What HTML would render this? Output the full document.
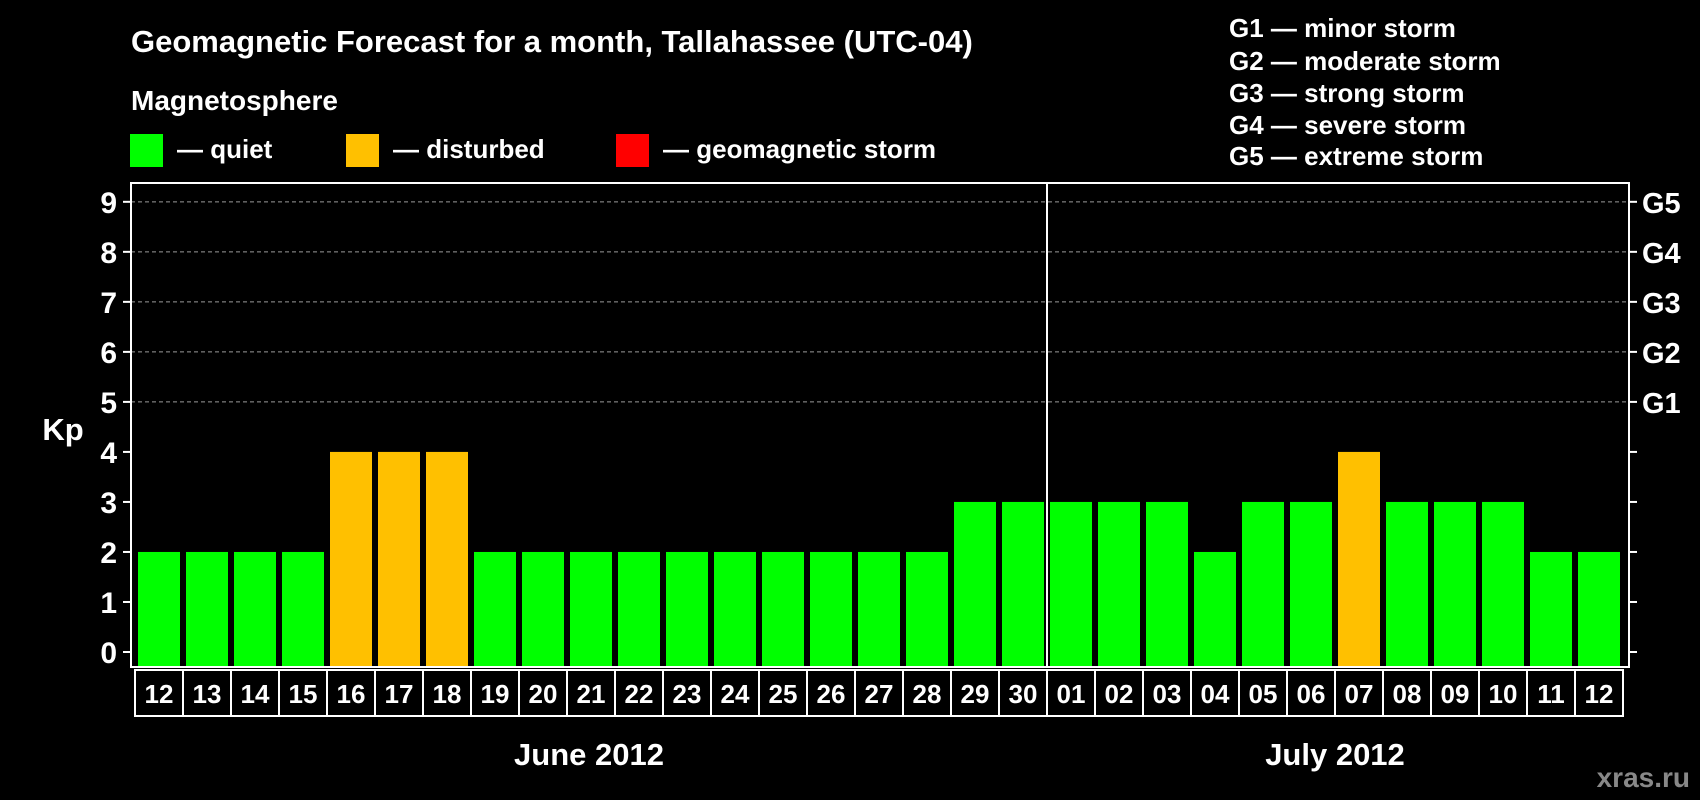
<!DOCTYPE html>
<html><head><meta charset="utf-8"><style>
html,body{margin:0;padding:0;background:#000;}
svg{display:block;font-family:"Liberation Sans",Arial,sans-serif;font-weight:bold;}
</style></head><body>
<svg id="chart" width="1700" height="800" viewBox="0 0 1700 800">
<rect width="1700" height="800" fill="#000"/>
<text x="131" y="52" fill="#fff" font-size="31">Geomagnetic Forecast for a month, Tallahassee (UTC-04)</text>
<text x="131" y="110" fill="#fff" font-size="28">Magnetosphere</text>
<g><rect x="130" y="134" width="33" height="33" fill="#00ff00"/><text x="177" y="158" fill="#fff" font-size="26">— quiet</text></g>
<g><rect x="346" y="134" width="33" height="33" fill="#ffc000"/><text x="393" y="158" fill="#fff" font-size="26">— disturbed</text></g>
<g><rect x="616" y="134" width="33" height="33" fill="#ff0000"/><text x="663" y="158" fill="#fff" font-size="26">— geomagnetic storm</text></g>
<g fill="#fff" font-size="26">
<text x="1229" y="37">G1 — minor storm</text>
<text x="1229" y="70">G2 — moderate storm</text>
<text x="1229" y="102">G3 — strong storm</text>
<text x="1229" y="134">G4 — severe storm</text>
<text x="1229" y="165">G5 — extreme storm</text>
</g>
<text x="63" y="440" fill="#fff" font-size="31" text-anchor="middle">Kp</text>
<g id="grid"></g><g id="bars"></g><g id="axes"></g><g id="days"></g>
<text x="589" y="765" fill="#fff" font-size="31" text-anchor="middle">June 2012</text>
<text x="1335" y="765" fill="#fff" font-size="31" text-anchor="middle">July 2012</text>
<text x="1690" y="787" fill="#888" font-size="28" text-anchor="end">xras.ru</text>
</svg>
<script>
const days=["12","13","14","15","16","17","18","19","20","21","22","23","24","25","26","27","28","29","30","01","02","03","04","05","06","07","08","09","10","11","12"];
const kp=[2,2,2,2,4,4,4,2,2,2,2,2,2,2,2,2,2,3,3,3,3,3,2,3,3,4,3,3,3,2,2];
const yTicks=[0,1,2,3,4,5,6,7,8,9];
const gLabels=["G1","G2","G3","G4","G5"];
const NS="http://www.w3.org/2000/svg";
const L=131,R=1629,T=183,B=667,x0=138,pitch=48,bw=42;
const y=v=>652-v*50.02;
const x=i=>x0+i*pitch;
function mk(tag,attrs,parent){const e=document.createElementNS(NS,tag);for(const k in attrs)e.setAttribute(k,attrs[k]);parent.appendChild(e);return e;}
const grid=document.getElementById('grid'),bars=document.getElementById('bars'),axes=document.getElementById('axes'),dg=document.getElementById('days');
yTicks.forEach(v=>{
 if(v>=5){const g=mk('line',{x1:L,x2:R,y1:y(v),y2:y(v),stroke:'#999','stroke-dasharray':'4,3','stroke-width':1},grid);
 
 }
 const t=mk('line',{x1:L-8,x2:L,y1:y(v),y2:y(v),stroke:'#fff','stroke-width':2},axes);
 
 
 const t2=mk('line',{x1:R,x2:R+8,y1:y(v),y2:y(v),stroke:'#fff','stroke-width':2},axes);
 
 
 const lb=mk('text',{x:L-14,y:y(v)+11,fill:'#fff','font-size':30,'text-anchor':'end'},axes);
 lb.textContent=v;
 
 
});
gLabels.forEach((g,i)=>{
 const lb=mk('text',{x:R+13,y:y(i+5)+11,fill:'#fff','font-size':29},axes);
 lb.textContent=g;
 
 
});
const frame=mk('rect',{x:L,y:T,width:R-L,height:B-T,fill:'none',stroke:'#fff','stroke-width':2},axes);


const splitIdx=days.indexOf("01");
const sep=mk('line',{x1:x(splitIdx)-3,x2:x(splitIdx)-3,y1:T,y2:B,stroke:'#fff','stroke-width':2},axes);


kp.forEach((v,i)=>{
 const col=v>=5?'#ff0000':(v>=4?'#ffc000':'#00ff00');
 const r=mk('rect',{x:x(i),y:y(v),width:bw,height:B-1-y(v),fill:col},bars);
 
 
 const bx=mk('rect',{x:x(i)-3,y:670,width:pitch,height:46,fill:'none',stroke:'#fff','stroke-width':2},dg);
 
 
 const t=mk('text',{x:x(i)+bw/2,y:703,fill:'#fff','font-size':26,'text-anchor':'middle'},dg);
 t.textContent=days[i];
 
 
});
</script>
</body></html>
